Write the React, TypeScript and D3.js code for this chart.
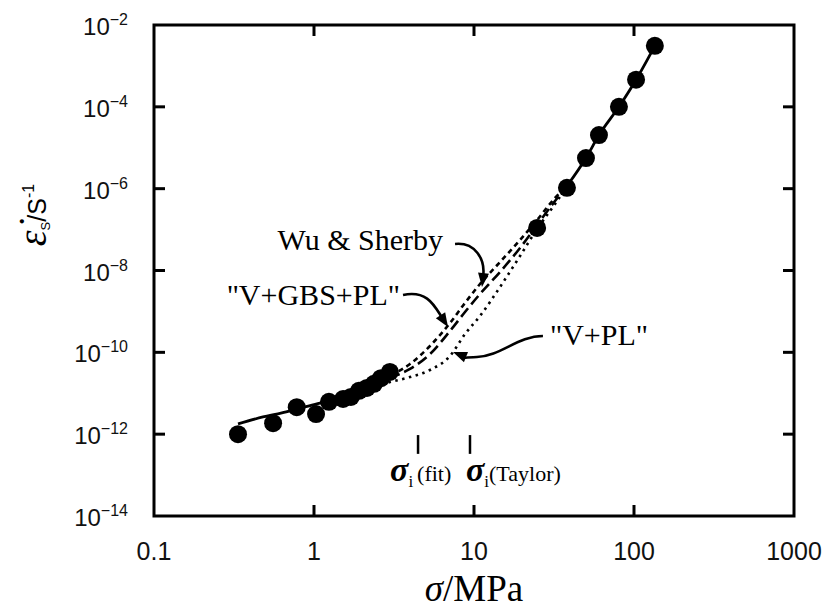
import React from 'react';
import * as d3 from 'd3';

// Measured creep data: stress (MPa) and strain rate (1/s)
const stressData = [0.335, 0.555, 0.78, 1.03, 1.24, 1.52, 1.70, 1.91, 2.14, 2.37, 2.62, 2.98, 24.8, 38.1, 50.1, 60.4, 80.5, 103, 135];
const rateData = [1.0e-12, 1.86e-12, 4.57e-12, 3.09e-12, 6.17e-12, 7.24e-12, 8.13e-12, 1.15e-11, 1.35e-11, 1.70e-11, 2.34e-11, 3.31e-11, 1.10e-7, 1.05e-6, 5.6e-6, 2.04e-5, 1.0e-4, 4.6e-4, 3.1e-3];

// Common (solid) fit segments
const lowFitStress = [0.335, 0.48, 0.63, 0.82, 1.09, 1.43, 1.9, 2.405];
const lowFitRate = [1.78e-12, 2.63e-12, 3.31e-12, 4.37e-12, 5.75e-12, 8.13e-12, 1.15e-11, 1.59e-11];
const highFitStress = [38.13, 50.1, 60.4, 80.5, 103, 135];
const highFitRate = [1.16e-6, 5.6e-6, 2.04e-5, 1.0e-4, 4.6e-4, 3.1e-3];

// Model curves in the diverging region
const modelStress = [2.405, 2.985, 3.981, 5.309, 7.08, 8.785, 10.9, 14.54, 19.39, 24.77, 32.08, 38.13];
const wuSherbyRate = [1.68e-11, 2.64e-11, 5.19e-11, 1.43e-10, 5.21e-10, 1.61e-9, 4.68e-9, 1.61e-8, 5.56e-8, 1.71e-7, 5.92e-7, 1.16e-6];
const vGbsPlRate = [1.59e-11, 2.36e-11, 3.92e-11, 9.10e-11, 3.33e-10, 9.68e-10, 2.67e-9, 9.20e-9, 3.55e-8, 1.29e-7, 5.00e-7, 1.16e-6];
const vPlRate = [1.50e-11, 1.88e-11, 2.49e-11, 3.70e-11, 8.13e-11, 2.80e-10, 7.73e-10, 3.95e-9, 2.26e-8, 1.03e-7, 4.22e-7, 1.16e-6];

// Axis ticks
const xTickValues = [0.1, 1, 10, 100, 1000];
const xTickLabels = ['0.1', '1', '10', '100', '1000'];
const yTickExponents = [-2, -4, -6, -8, -10, -12, -14];

// Threshold stress markers
const sigmaFit = 4.47;
const sigmaTaylor = 9.44;

const SERIF = '"Liberation Serif", "Times New Roman", serif';
const SANS = '"Liberation Sans", Arial, Helvetica, sans-serif';

function head(tx: number, ty: number, dx: number, dy: number, len = 14, half = 5.5) {
  const L = Math.hypot(dx, dy);
  const ux = dx / L, uy = dy / L;
  const bx = tx - ux * len, by = ty - uy * len;
  const px = -uy, py = ux;
  return {
    d: `M${tx},${ty}L${bx + px * half},${by + py * half}L${bx - px * half},${by - py * half}Z`,
    bx: tx - ux * (len - 2),
    by: ty - uy * (len - 2),
  };
}

export default function App() {
  const W = 828, H = 611;
  const x = d3.scaleLog().domain([0.1, 1000]).range([154, 794]);
  const y = d3.scaleLog().domain([1e-14, 1e-2]).range([516, 25]);
  const [x0, x1] = x.range();
  const [y0, y1] = y.range();

  const line = d3
    .line<[number, number]>()
    .x((d) => x(d[0]))
    .y((d) => y(d[1]))
    .curve(d3.curveMonotoneX);
  const zip = (a: number[], b: number[]) => a.map((v, i) => [v, b[i]] as [number, number]);

  const innerX = [1, 10, 100];
  const innerY = yTickExponents.filter((e) => e !== -2 && e !== -14);
  const T = 11;

  // Annotation anchors (data coordinates)
  const ws = { s: [x(7.61), y(4.45e-8)], t: [x(11.22), y(3.95e-9)] };
  const gb = { s: [x(3.6), y(2.52e-9)], t: [x(6.88), y(4.16e-10)] };
  const vp = { s: [x(26.97), y(2.51e-10)], t: [x(7.39), y(1.02e-10)] };

  const wsC2 = [ws.t[0] + 3, ws.t[1] - 28];
  const wsH = head(ws.t[0], ws.t[1], ws.t[0] - wsC2[0], ws.t[1] - wsC2[1]);
  const wsPath = `M${ws.s[0]},${ws.s[1]} C${ws.s[0] + 20},${ws.s[1] - 2} ${wsC2[0]},${wsC2[1]} ${wsH.bx},${wsH.by}`;

  const gbC2 = [gb.t[0] - 14, gb.t[1] - 22];
  const gbH = head(gb.t[0], gb.t[1], gb.t[0] - gbC2[0], gb.t[1] - gbC2[1]);
  const gbPath = `M${gb.s[0]},${gb.s[1]} C${gb.s[0] + 24},${gb.s[1] - 5} ${gbC2[0]},${gbC2[1]} ${gbH.bx},${gbH.by}`;

  const vpH = head(vp.t[0], vp.t[1], -15, -6);
  const vpPath = `M${vp.s[0]},${vp.s[1]} C${vp.s[0] - 25},${vp.s[1]} ${vp.s[0] - 42},${vp.s[1] + 20} ${vp.s[0] - 66},${vp.s[1] + 21} S${vp.t[0] + 16},${vp.t[1] + 7} ${vpH.bx},${vpH.by}`;

  const xf = x(sigmaFit), xt = x(sigmaTaylor);
  const markTop = y(9.5e-13), markBot = y(3.3e-13);

  return (
    <svg width={W} height={H} style={{ position: 'absolute', left: 0, top: 0, background: '#fff' }}>
      <rect x={0} y={0} width={W} height={H} fill="#fff" />
      {/* curves */}
      <path d={line(zip(lowFitStress, lowFitRate)) || ''} fill="none" stroke="#000" strokeWidth={2.8} />
      <path d={line(zip(highFitStress, highFitRate)) || ''} fill="none" stroke="#000" strokeWidth={2.8} />
      <path d={line(zip(modelStress, wuSherbyRate)) || ''} fill="none" stroke="#000" strokeWidth={2.6} strokeDasharray="5,4" />
      <path d={line(zip(modelStress, vGbsPlRate)) || ''} fill="none" stroke="#000" strokeWidth={2.6} strokeDasharray="11,5" />
      <path d={line(zip(modelStress, vPlRate)) || ''} fill="none" stroke="#000" strokeWidth={2.6} strokeDasharray="2.5,4.5" />

      {/* data points */}
      {stressData.map((s, i) => (
        <circle key={i} cx={x(s)} cy={y(rateData[i])} r={9} fill="#000" />
      ))}

      {/* frame */}
      <rect x={x0} y={y1} width={x1 - x0} height={y0 - y1} fill="none" stroke="#000" strokeWidth={3} />
      {innerX.map((v) => (
        <g key={'xt' + v}>
          <line x1={x(v)} x2={x(v)} y1={y0} y2={y0 - T} stroke="#000" strokeWidth={3} />
          <line x1={x(v)} x2={x(v)} y1={y1} y2={y1 + T} stroke="#000" strokeWidth={3} />
        </g>
      ))}
      {innerY.map((e) => (
        <g key={'yt' + e}>
          <line x1={x0} x2={x0 + T} y1={y(10 ** e)} y2={y(10 ** e)} stroke="#000" strokeWidth={3} />
          <line x1={x1} x2={x1 - T} y1={y(10 ** e)} y2={y(10 ** e)} stroke="#000" strokeWidth={3} />
        </g>
      ))}

      {/* tick labels */}
      {xTickValues.map((v, i) => (
        <text key={'xl' + v} x={x(v)} y={560} textAnchor="middle" fontFamily={SANS} fontSize={25} fill="#111">
          {xTickLabels[i]}
        </text>
      ))}
      {yTickExponents.map((e) => (
        <text key={'yl' + e} x={128} y={y(10 ** e) + 10} textAnchor="end" fontFamily={SANS} fontSize={24} fill="#111">
          10
          <tspan fontSize={16} dy={-10}>{'\u2212' + Math.abs(e)}</tspan>
        </text>
      ))}

      {/* axis titles */}
      <text x={474} y={601} textAnchor="middle" fontFamily={SERIF} fontSize={37} fill="#000">
        <tspan fontStyle="italic">σ</tspan>/MPa
      </text>
      <text transform="translate(46,215) rotate(-90)" textAnchor="middle" fontFamily={SANS} fill="#000">
        <tspan fontFamily={SERIF} fontStyle="italic" fontSize={40}>{'\u03b5\u0307'}</tspan>
        <tspan fontSize={13} dy={4}>S</tspan>
        <tspan fontSize={25} dy={-4}>/S</tspan>
        <tspan fontSize={16} dy={-12}>-1</tspan>
      </text>

      {/* annotations */}
      <path d={wsPath} fill="none" stroke="#000" strokeWidth={2.6} />
      <path d={wsH.d} fill="#000" />
      <text x={ws.s[0] - 12} y={ws.s[1] + 6} textAnchor="end" fontFamily={SERIF} fontSize={30} fill="#000">
        Wu &amp; Sherby
      </text>

      <path d={gbPath} fill="none" stroke="#000" strokeWidth={2.6} />
      <path d={gbH.d} fill="#000" />
      <text x={gb.s[0] - 3} y={gb.s[1] + 10} textAnchor="end" fontFamily={SERIF} fontSize={30} fill="#000">
        "V+GBS+PL"
      </text>

      <path d={vpPath} fill="none" stroke="#000" strokeWidth={2.6} />
      <path d={vpH.d} fill="#000" />
      <text x={vp.s[0] + 7} y={vp.s[1] + 9} fontFamily={SERIF} fontSize={30} fill="#000">
        "V+PL"
      </text>

      {/* threshold stress markers */}
      <line x1={xf} x2={xf} y1={markTop} y2={markBot} stroke="#000" strokeWidth={2.5} />
      <line x1={xt} x2={xt} y1={markTop} y2={markBot} stroke="#000" strokeWidth={2.5} />
      <text x={xf - 28} y={481} fontFamily={SERIF} fill="#000">
        <tspan fontStyle="italic" fontWeight="bold" fontSize={34}>σ</tspan>
        <tspan fontSize={17} dy={6}>i</tspan>
        <tspan fontSize={22} dy={-6} dx={4}>(fit)</tspan>
      </text>
      <text x={xt - 4} y={481} fontFamily={SERIF} fill="#000">
        <tspan fontStyle="italic" fontWeight="bold" fontSize={34}>σ</tspan>
        <tspan fontSize={17} dy={6}>i</tspan>
        <tspan fontSize={22} dy={-6} dx={0}>(Taylor)</tspan>
      </text>
    </svg>
  );
}
